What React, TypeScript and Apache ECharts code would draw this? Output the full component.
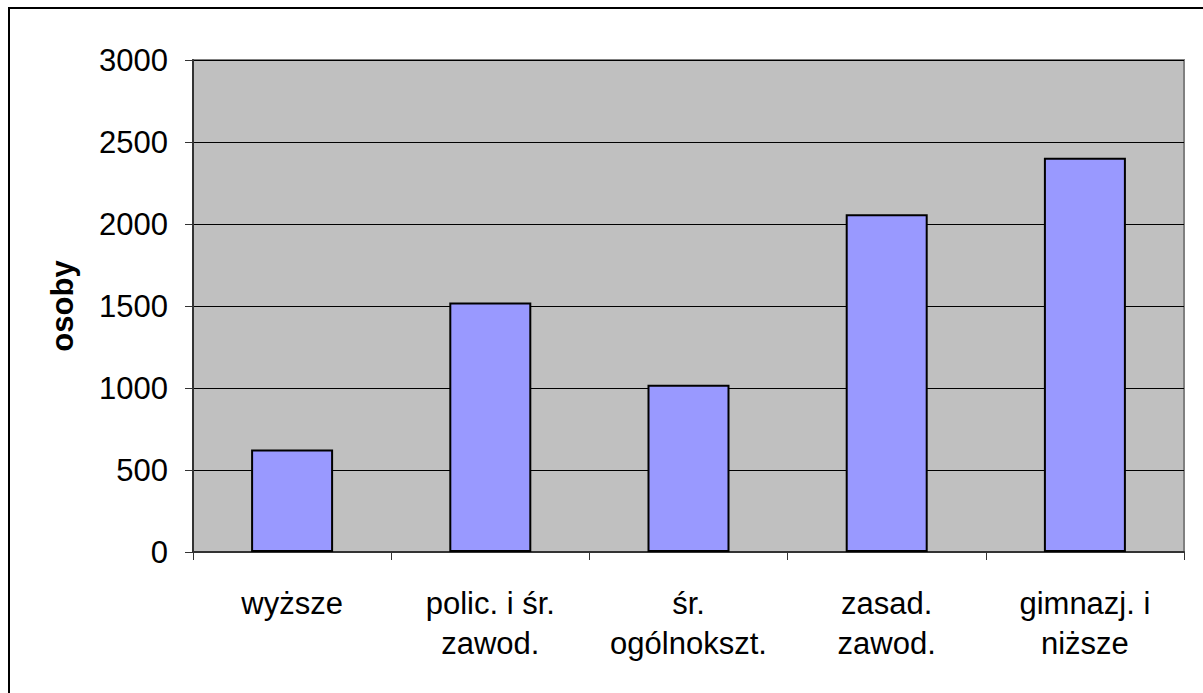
import React, { useEffect, useRef } from "react";
import * as echarts from "echarts";

const categories = ["wyższe", "polic. i śr.\nzawod.", "śr.\nogólnokszt.", "zasad.\nzawod.", "gimnazj. i\nniższe"];
const values = [625, 1522, 1020, 2059, 2404];
const yTicks = { min: 0, max: 3000, interval: 500 };
const yAxisTitle = "osoby";

export default function App() {
  const ref = useRef<HTMLDivElement>(null);
  useEffect(() => {
    document.body.style.margin = "0";
    const chart = echarts.init(ref.current!, null, { renderer: "svg" });
    const font = "Liberation Sans, Arial, sans-serif";
    chart.setOption({
      animation: false,
      backgroundColor: "#ffffff",
      grid: {
        left: 193,
        right: 19,
        top: 60,
        bottom: 141,
        show: true,
        backgroundColor: "#C0C0C0",
        borderColor: "#808080",
        borderWidth: 2,
      },
      xAxis: {
        type: "category",
        data: categories,
        axisLine: { show: true, lineStyle: { color: "#333", width: 2 } },
        axisTick: { show: true, length: 8, lineStyle: { color: "#333", width: 1 } },
        axisLabel: {
          color: "#000",
          fontFamily: font,
          fontSize: 31,
          lineHeight: 40,
          margin: 31,
          interval: 0,
        },
      },
      yAxis: {
        type: "value",
        min: yTicks.min,
        max: yTicks.max,
        interval: yTicks.interval,
        axisLine: { show: true, lineStyle: { color: "#333", width: 2 } },
        axisTick: { show: true, length: 8, lineStyle: { color: "#333", width: 1 } },
        axisLabel: {
          color: "#000",
          fontFamily: font,
          fontSize: 31,
          margin: 25,
          formatter: (v: number) => String(v),
        },
        splitLine: { show: true, lineStyle: { color: "#000", width: 1 } },
      },
      series: [
        {
          type: "bar",
          data: values,
          barWidth: 82,
          itemStyle: { color: "#9999FF", borderColor: "#000", borderWidth: 2 },
        },
      ],
      graphic: [
        {
          type: "text",
          x: 62,
          y: 306,
          rotation: Math.PI / 2,
          style: {
            text: yAxisTitle,
            font: `bold 31px ${font}`,
            fill: "#000",
            align: "center",
            verticalAlign: "middle",
          },
        },
        { type: "line", shape: { x1: 8, y1: 8, x2: 1203, y2: 8 }, style: { stroke: "#000", lineWidth: 2 } },
        { type: "line", shape: { x1: 9, y1: 7, x2: 9, y2: 693 }, style: { stroke: "#000", lineWidth: 2 } },
      ],
    });
    return () => chart.dispose();
  }, []);
  return <div ref={ref} style={{ width: 1203, height: 693 }} />;
}
